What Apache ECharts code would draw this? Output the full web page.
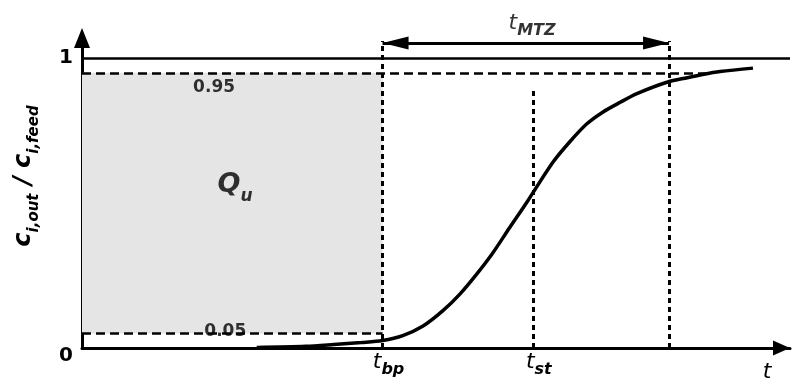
<!DOCTYPE html>
<html><head><meta charset="utf-8">
<script src="https://cdn.jsdelivr.net/npm/echarts@6/dist/echarts.min.js"></script>
<style>html,body{margin:0;padding:0;background:#fff}#c{width:792px;height:383px}</style>
</head><body><div id="c"></div>
<script>
// Breakthrough curve: time (arbitrary units) and c_out/c_feed
const curveT = [25, 32, 36, 40, 43, 45.9, 48.8, 51.6, 54.1, 56.5, 58.8, 61.2, 63.7, 67.4, 69.8, 72.2, 74.5, 77.0, 79.4, 83.8, 86.6, 88.8, 91.3, 96.0];
const curveC = [0.002, 0.006, 0.012, 0.019, 0.026, 0.043, 0.076, 0.128, 0.187, 0.256, 0.329, 0.416, 0.505, 0.642, 0.712, 0.773, 0.814, 0.848, 0.878, 0.918, 0.933, 0.944, 0.954, 0.966];

// Characteristic times
const tBreak = 43;      // t_bp
const tStoich = 64.5;   // t_st
const tEnd = 84;        // end of mass transfer zone
const tAxisMax = 101.3;
const upperEnd = 90;    // 0.95 dashed line runs until it meets the curve

// Levels
const levelFull = 1;
const levelUpper = 0.95;
const levelLower = 0.05;
const stoichTop = 0.895;
const zoneTop = 1.06;
const arrowLevel = 1.053;
const yAxisMax = 1.07;

// Tick labels
const yTickValues = [0, 1];
const xTickValues = [tBreak, tStoich];
const xTickLabels = ['{t|t}{s|bp}', '{t|t}{s|st}'];

// Text annotations: [t, c, text]
const annotations = [
  [18.9, 0.90, '{n|0.95}'],
  [20.5, 0.057, '{n|0.05}'],
  [21.9, 0.54, '{q|Q}{qs|u}'],
  [64.4, 1.105, '{t|t}{s|MTZ}']
];

const FONT = 'DejaVu Sans';
const INK = '#000';

const chart = echarts.init(document.getElementById('c'), null, {renderer: 'canvas'});

const richCommon = {
  t: {fontFamily: FONT, fontSize: 22, fontStyle: 'italic', color: INK, lineHeight: 22, padding: [0, 0, 5, 0], verticalAlign: 'bottom'},
  s: {fontFamily: FONT, fontSize: 16, fontStyle: 'italic', fontWeight: 'bold', color: INK, lineHeight: 16, verticalAlign: 'bottom'},
  n: {fontFamily: FONT, fontSize: 17, fontWeight: 'bold', color: INK},
  q: {fontFamily: FONT, fontSize: 27, fontStyle: 'italic', fontWeight: 'bold', color: INK, lineHeight: 27, padding: [0, 0, 7, 0], verticalAlign: 'bottom'},
  qs: {fontFamily: FONT, fontSize: 17, fontStyle: 'italic', fontWeight: 'bold', color: INK, lineHeight: 17, verticalAlign: 'bottom'}
};

const vDash = {type: [5, 4], width: 3, color: INK};
const hDash = {type: [9, 5], width: 2.5, color: INK};

chart.setOption({
  animation: false,
  backgroundColor: '#fff',
  grid: {left: 82, right: 2, top: 38, bottom: 35, containLabel: false, outerBoundsMode: 'none'},
  xAxis: {
    type: 'value', min: 0, max: tAxisMax,
    name: '{t|t}', nameLocation: 'end', nameGap: -23,
    nameTextStyle: {align: 'center', verticalAlign: 'top', padding: [18, 0, 0, 0], rich: richCommon},
    axisLine: {show: true, symbol: ['none', 'triangle'], symbolSize: [15, 17], symbolOffset: [0, -8.5], lineStyle: {color: INK, width: 3}},
    axisTick: {show: false},
    splitLine: {show: false},
    axisLabel: {
      customValues: xTickValues, margin: 8,
      formatter: function (v) { return xTickLabels[xTickValues.indexOf(v)] || ''; },
      rich: {
        t: Object.assign({}, richCommon.t, {padding: [0, 0, 5, 12]}),
        s: richCommon.s
      }
    }
  },
  yAxis: {
    type: 'value', min: 0, max: yAxisMax,
    name: '{c|c}{s|i,out}{c| / c}{s|i,feed}',
    nameLocation: 'middle', nameRotate: 90, nameGap: 40,
    nameTextStyle: {
      color: INK,
      padding: [0, 0, 0, 34],
      rich: {
        c: {fontFamily: FONT, fontSize: 24, fontStyle: 'italic', fontWeight: 'bold', color: INK, lineHeight: 24, padding: [0, 0, 6, 0], verticalAlign: 'bottom'},
        s: {fontFamily: FONT, fontSize: 15, fontStyle: 'italic', fontWeight: 'bold', color: INK, lineHeight: 15, verticalAlign: 'bottom'}
      }
    },
    axisLine: {show: true, symbol: ['none', 'triangle'], symbolSize: [16, 20], lineStyle: {color: INK, width: 3}},
    axisTick: {show: false},
    splitLine: {show: false},
    axisLabel: {
      customValues: yTickValues, margin: 9, color: INK,
      formatter: function (v) { return v === 0 ? '{z|0}' : '{o|1}'; },
      rich: {
        z: {fontFamily: FONT, fontSize: 20, fontWeight: 'bold', color: INK, padding: [16, 0, 0, 0]},
        o: {fontFamily: FONT, fontSize: 20, fontWeight: 'bold', color: INK}
      }
    }
  },
  series: [
    {
      name: 'breakthrough',
      type: 'line',
      data: curveT.map(function (t, i) { return [t, curveC[i]]; }),
      smooth: 0.3,
      showSymbol: false,
      symbol: 'none',
      clip: false,
      z: 5,
      lineStyle: {color: INK, width: 3.5},
      markArea: {
        silent: true,
        itemStyle: {color: '#e5e5e5'},
        data: [[{coord: [0, levelLower]}, {coord: [tBreak, levelUpper]}]]
      },
      markLine: {
        silent: true,
        symbol: ['none', 'none'],
        label: {show: false},
        data: [
          [{coord: [0, levelFull], lineStyle: {type: 'solid', width: 2.5, color: INK}}, {coord: [tAxisMax, levelFull]}],
          [{coord: [0, levelUpper], lineStyle: hDash}, {coord: [upperEnd, levelUpper]}],
          [{coord: [0, levelLower], lineStyle: hDash}, {coord: [tBreak, levelLower]}],
          [{coord: [tBreak, 0], lineStyle: vDash}, {coord: [tBreak, zoneTop]}],
          [{coord: [tStoich, 0], lineStyle: vDash}, {coord: [tStoich, stoichTop]}],
          [{coord: [tEnd, 0], lineStyle: vDash}, {coord: [tEnd, zoneTop]}],
          [
            {coord: [tBreak, arrowLevel], symbol: 'triangle', symbolSize: [13, 26], symbolOffset: [0, '50%'], lineStyle: {type: 'solid', width: 3, color: INK}},
            {coord: [tEnd, arrowLevel], symbol: 'triangle', symbolSize: [13, 26], symbolOffset: [0, '50%']}
          ]
        ]
      }
    },
    {
      name: 'annotations',
      type: 'scatter',
      symbolSize: 0,
      clip: false,
      silent: true,
      z: 6,
      data: annotations.map(function (a) { return {value: [a[0], a[1]]}; }),
      label: {
        show: true, position: 'inside', color: INK, textBorderWidth: 0,
        formatter: function (p) { return annotations[p.dataIndex][2]; },
        rich: richCommon
      }
    }
  ]
});
</script>
</body></html>
